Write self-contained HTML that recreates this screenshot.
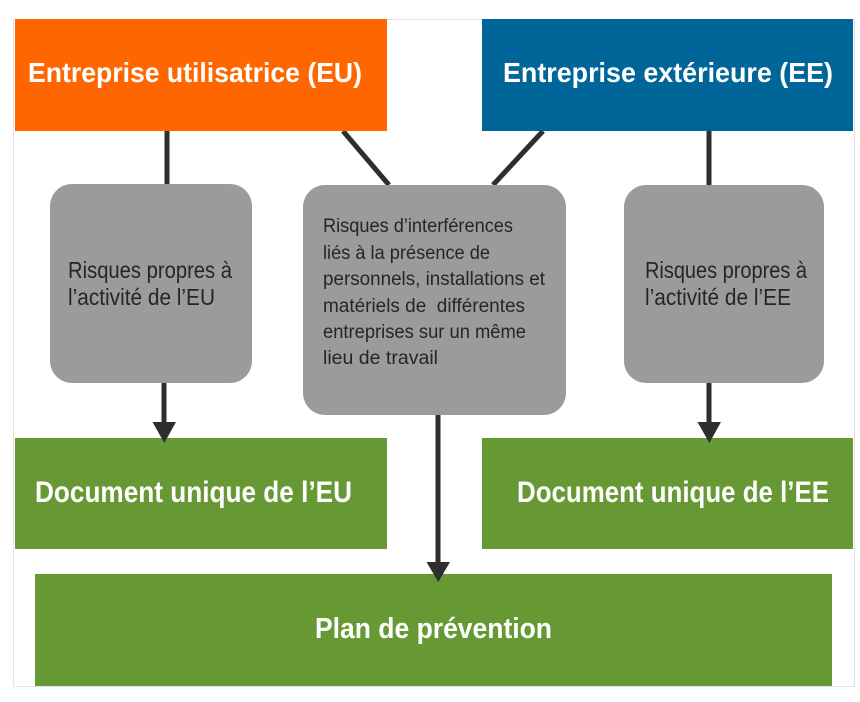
<!DOCTYPE html>
<html>
<head>
<meta charset="utf-8">
<style>
  html, body { margin: 0; padding: 0; background: #ffffff; }
  body { width: 860px; height: 702px; overflow: hidden; }
  svg { display: block; }
  .hdr { font-family: "Liberation Sans", sans-serif; font-weight: bold; fill: #ffffff; }
  .gt { font-family: "Liberation Sans", sans-serif; fill: #262626; }
</style>
</head>
<body>
<svg width="860" height="702" viewBox="0 0 860 702" xmlns="http://www.w3.org/2000/svg">
  <!-- outer faint frame -->
  <rect x="13.5" y="19.5" width="841" height="667" fill="#ffffff" stroke="#e2e2e2" stroke-width="1"/>

  <!-- connectors -->
  <g stroke="#2e2e2e" stroke-width="5" fill="none">
    <line x1="167" y1="131" x2="167" y2="185"/>
    <line x1="343" y1="131" x2="389" y2="185"/>
    <line x1="543" y1="131" x2="493" y2="185"/>
    <line x1="709" y1="131" x2="709" y2="185"/>
    <line x1="164" y1="382" x2="164" y2="425"/>
    <line x1="709" y1="382" x2="709" y2="425"/>
    <line x1="438" y1="414" x2="438" y2="565"/>
  </g>

  <!-- top boxes -->
  <rect x="15" y="19" width="372" height="112" fill="#ff6600"/>
  <rect x="482" y="19" width="371" height="112" fill="#006699"/>
  <text class="hdr" x="28" y="82" font-size="28" textLength="334" lengthAdjust="spacingAndGlyphs">Entreprise utilisatrice (EU)</text>
  <text class="hdr" x="503" y="82" font-size="28" textLength="330" lengthAdjust="spacingAndGlyphs">Entreprise extérieure (EE)</text>

  <!-- gray boxes -->
  <rect x="50" y="184" width="202" height="199" rx="22" ry="22" fill="#9b9b9b"/>
  <rect x="303" y="185" width="263" height="230" rx="22" ry="22" fill="#9b9b9b"/>
  <rect x="624" y="185" width="200" height="198" rx="22" ry="22" fill="#9b9b9b"/>

  <text class="gt" x="68" y="278" font-size="23" textLength="164" lengthAdjust="spacingAndGlyphs">Risques propres à</text>
  <text class="gt" x="68" y="305" font-size="23" textLength="147" lengthAdjust="spacingAndGlyphs">l’activité de l’EU</text>

  <text class="gt" x="645" y="278" font-size="23" textLength="162" lengthAdjust="spacingAndGlyphs">Risques propres à</text>
  <text class="gt" x="645" y="305" font-size="23" textLength="146" lengthAdjust="spacingAndGlyphs">l’activité de l’EE</text>

  <text class="gt" x="323" y="232" font-size="19" textLength="190" lengthAdjust="spacingAndGlyphs">Risques d’interférences</text>
  <text class="gt" x="323" y="259" font-size="19" textLength="167" lengthAdjust="spacingAndGlyphs">liés à la présence de</text>
  <text class="gt" x="323" y="285" font-size="19" textLength="222" lengthAdjust="spacingAndGlyphs">personnels, installations et</text>
  <text class="gt" x="323" y="312" font-size="19" textLength="202" lengthAdjust="spacingAndGlyphs" xml:space="preserve">matériels de  différentes</text>
  <text class="gt" x="323" y="338" font-size="19" textLength="203" lengthAdjust="spacingAndGlyphs">entreprises sur un même</text>
  <text class="gt" x="323" y="364" font-size="19" textLength="115" lengthAdjust="spacingAndGlyphs">lieu de travail</text>

  <!-- green boxes -->
  <rect x="15" y="438" width="372" height="111" fill="#669933"/>
  <rect x="482" y="438" width="371" height="111" fill="#669933"/>
  <rect x="35" y="574" width="797" height="112" fill="#669933"/>

  <text class="hdr" x="35" y="502" font-size="30" textLength="317" lengthAdjust="spacingAndGlyphs">Document unique de l’EU</text>
  <text class="hdr" x="517" y="502" font-size="30" textLength="312" lengthAdjust="spacingAndGlyphs">Document unique de l’EE</text>
  <text class="hdr" x="315" y="638" font-size="29" textLength="237" lengthAdjust="spacingAndGlyphs">Plan de prévention</text>

  <!-- arrowheads -->
  <g fill="#2e2e2e">
    <polygon points="152.5,422 176,422 164.3,443"/>
    <polygon points="697.5,422 721,422 709.3,443"/>
    <polygon points="426.5,562 450,562 438.3,582"/>
  </g>
</svg>
</body>
</html>
